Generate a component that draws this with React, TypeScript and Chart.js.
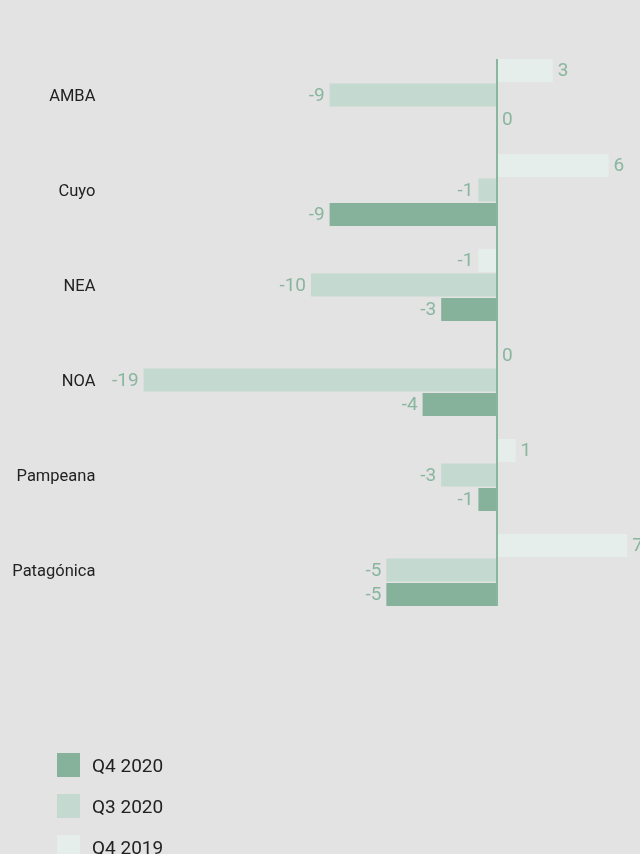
import React, { useEffect, useRef } from "react";
import { Chart, registerables } from "chart.js";

Chart.register(...registerables);

const categories = ["AMBA", "Cuyo", "NEA", "NOA", "Pampeana", "Patagónica"];
const seriesQ42019 = [3, 6, -1, 0, 1, 7];
const seriesQ32020 = [-9, -1, -10, -19, -3, -5.95];
const seriesQ42020 = [0, -9, -3, -4, -1, -5.95];
const legendLabels = ["Q4 2020", "Q3 2020", "Q4 2019"];

const COL_DARK = "#86b29b";
const COL_MID = "#c4d9cf";
const COL_LIGHT = "#e6eeeb";
const COL_LABEL = "#89b69e";
const BG = "#e3e3e3";
const FONT = "Roboto, 'DejaVu Sans', sans-serif";

const valueLabels = {
  id: "valueLabels",
  afterDatasetsDraw(chart: any) {
    const ctx = chart.ctx;
    ctx.save();
    ctx.font = `19px ${FONT}`;
    ctx.fillStyle = COL_LABEL;
    ctx.textBaseline = "middle";
    chart.data.datasets.forEach((ds: any, di: number) => {
      const meta = chart.getDatasetMeta(di);
      meta.data.forEach((el: any, i: number) => {
        const v = ds.data[i];
        const txt = String(Math.trunc(v));
        if (v < 0) {
          ctx.textAlign = "right";
          ctx.fillText(txt, el.x - 5, el.y + 1);
        } else {
          ctx.textAlign = "left";
          ctx.fillText(txt, el.x + 5, el.y + 1);
        }
      });
    });
    const xs = chart.scales.x;
    const x0 = xs.getPixelForValue(0);
    const first = chart.getDatasetMeta(0).data[0];
    const lastMeta = chart.getDatasetMeta(chart.data.datasets.length - 1);
    const last = lastMeta.data[lastMeta.data.length - 1];
    const top = first.y - first.height / 2;
    const bottom = last.y + last.height / 2;
    ctx.strokeStyle = COL_LABEL;
    ctx.lineWidth = 2;
    ctx.beginPath();
    ctx.moveTo(x0, top);
    ctx.lineTo(x0, bottom);
    ctx.stroke();
    ctx.restore();
  },
};

export default function App() {
  const ref = useRef<HTMLCanvasElement | null>(null);
  useEffect(() => {
    if (!ref.current) return;
    const chart = new Chart(ref.current, {
      type: "bar",
      data: {
        labels: categories,
        datasets: [
          { label: "Q4 2019", data: seriesQ42019, backgroundColor: COL_LIGHT },
          { label: "Q3 2020", data: seriesQ32020, backgroundColor: COL_MID },
          { label: "Q4 2020", data: seriesQ42020, backgroundColor: COL_DARK },
        ],
      },
      options: {
        indexAxis: "y",
        responsive: false,
        animation: false,
        layout: { padding: { top: 47.5, bottom: 236.5, left: 0, right: 3.5 } },
        categoryPercentage: 0.774,
        barPercentage: 0.94,
        plugins: { legend: { display: false }, tooltip: { enabled: false } },
        scales: {
          x: { type: "linear", min: -21, max: 7.5, display: false },
          y: {
            type: "category",
            grid: { display: false },
            border: { display: false },
            ticks: { color: "#222", font: { family: FONT, size: 16.5 }, padding: 3, labelOffset: 2 },
            afterFit: (scale: any) => {
              scale.width = 106.4;
            },
          },
        },
      } as any,
      plugins: [valueLabels],
    });
    return () => chart.destroy();
  }, []);

  const swatch = [COL_DARK, COL_MID, COL_LIGHT];
  return (
    <div style={{ position: "fixed", left: 0, top: 0, width: 640, height: 854, background: BG, overflow: "hidden" }}>
      <canvas ref={ref} width={640} height={854} style={{ position: "absolute", left: 0, top: 0 }} />
      <div style={{ position: "absolute", left: 57, top: 753 }}>
        {legendLabels.map((l, i) => (
          <div key={l} style={{ display: "flex", alignItems: "center", height: 24, marginBottom: 17 }}>
            <div style={{ width: 23, height: 24, background: swatch[i] }} />
            <span style={{ marginLeft: 12, fontFamily: FONT, fontSize: 19, color: "#222" }}>{l}</span>
          </div>
        ))}
      </div>
    </div>
  );
}
